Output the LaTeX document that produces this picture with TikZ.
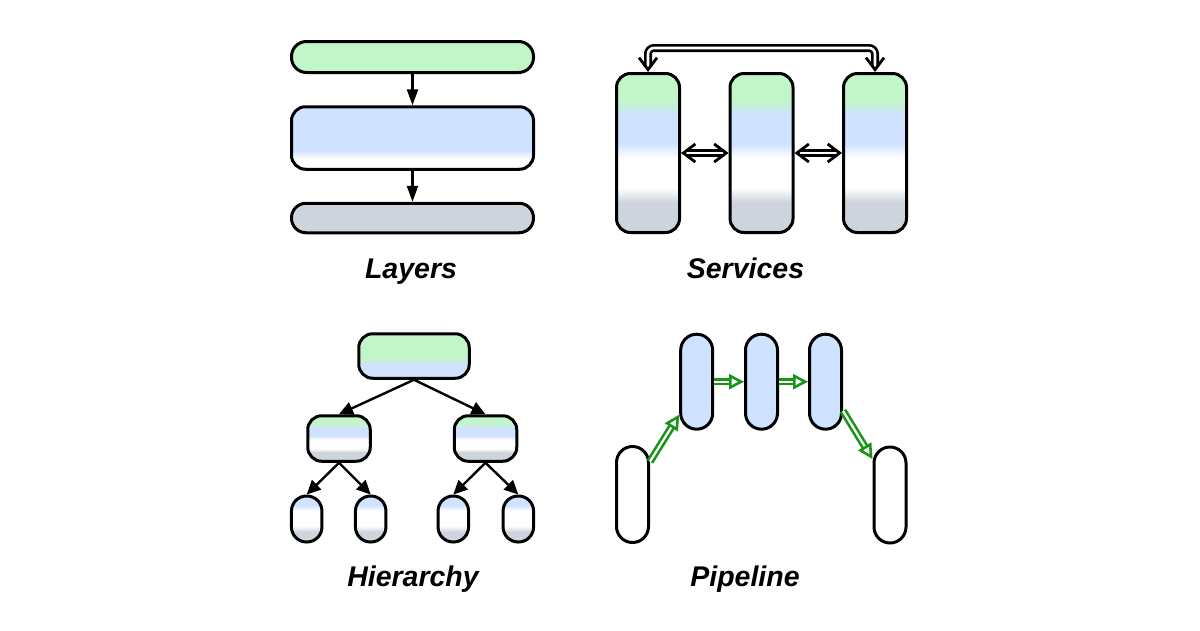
\documentclass[tikz,border=0pt]{standalone}
\usepackage{fontspec}
\setmainfont{Liberation Sans}
\usetikzlibrary{arrows.meta,calc}

\definecolor{sgreen}{RGB}{194,245,199}
\definecolor{sblue}{RGB}{207,226,255}
\definecolor{sgray}{RGB}{206,212,220}
\definecolor{pgreen}{RGB}{24,148,24}

% vertical band shadings (the middle 25bp..75bp covers the node)
\pgfdeclareverticalshading{fourband}{100bp}{color(0bp)=(sgray); color(34.5bp)=(sgray);
  color(39bp)=(white); color(48.5bp)=(white); color(53bp)=(sblue); color(62bp)=(sblue);
  color(66.5bp)=(sgreen); color(100bp)=(sgreen)}
\pgfdeclareverticalshading{twoband}{100bp}{color(0bp)=(sblue); color(40.5bp)=(sblue);
  color(47bp)=(sgreen); color(100bp)=(sgreen)}
\pgfdeclareverticalshading{threeband}{100bp}{color(0bp)=(sgray); color(36bp)=(sgray);
  color(42.5bp)=(white); color(59bp)=(white); color(65bp)=(sblue); color(100bp)=(sblue)}
\pgfdeclareverticalshading{blueband}{100bp}{color(0bp)=(white); color(33.5bp)=(white);
  color(40bp)=(sblue); color(100bp)=(sblue)}

\tikzset{
  box/.style={draw=black, line width=3pt, inner sep=0pt},
  arr/.style={line width=2.4pt, -{Triangle[length=16pt,width=11pt]}},
  harr/.style={line width=2.4pt, -{Triangle[length=14pt,width=13pt]}},
  vtip/.tip={Straight Barb[color=black, line width=2.8pt, length=12pt, width=18pt]},
  % hollow double connector: thick black shaft, white core, open V heads
  dbl/.style={draw=black, line width=8pt, shorten <=5pt, shorten >=5pt,
    postaction={draw=white, line width=2.6pt, shorten <=0pt, shorten >=0pt, arrows={vtip-vtip}}},
  gtip/.tip={Triangle[color=pgreen, fill=white, line width=2.6pt, length=15pt, width=15pt]},
  garr/.style={draw=pgreen, line width=7.4pt, shorten >=13pt,
    postaction={draw=white, line width=2.2pt, shorten >=0pt, arrows={-gtip}}},
  lbl/.style={font=\fontsize{28.5}{32}\selectfont\bfseries\itshape, anchor=base, inner sep=0pt}
}

\begin{document}
\begin{tikzpicture}[x=1pt, y=-1pt]
  \fill[white] (0,0) rectangle (1200,630);
  \useasboundingbox (0,0) rectangle (1200,630);

  % ---- Layers ----
  \node[box, fill=sgreen, minimum width=242pt, minimum height=31pt, rounded corners=15pt] (l1) at (412.5,57) {};
  \node[box, shade, shading=blueband, minimum width=242pt, minimum height=62.5pt, rounded corners=14pt] (l2) at (412.5,138) {};
  \node[box, fill=sgray, minimum width=242pt, minimum height=29.5pt, rounded corners=14.5pt] (l3) at (412.5,218) {};
  \draw[arr] (l1) -- (l2);
  \draw[arr] (l2) -- (l3);
  \node[lbl] (tlayers) at (411,278) {Layers};

  % ---- Services ----
  \foreach \n/\x in {s1/648, s2/761.5, s3/875}
    \node[box, shade, shading=fourband, minimum width=63pt, minimum height=159pt, rounded corners=14pt] (\n) at (\x,153) {};
  \draw[dbl] (s1) -- (s2);
  \draw[dbl] (s2) -- (s3);
  \coordinate (top) at (0,48);
  \draw[dbl, rounded corners=6pt] (s1.north) -- (s1.north |- top) -- (s3.north |- top) -- (s3.north);
  \node[lbl] (tservices) at (745.5,278) {Services};

  % ---- Hierarchy ----
  \node[box, shade, shading=twoband, minimum width=110.5pt, minimum height=44.5pt, rounded corners=14pt] (h0) at (414,356) {};
  \node[box, shade, shading=fourband, minimum width=62.5pt, minimum height=45.5pt, rounded corners=14pt] (h1) at (339,438.5) {};
  \node[box, shade, shading=fourband, minimum width=62.5pt, minimum height=45.5pt, rounded corners=14pt] (h2) at (485.5,438.5) {};
  \foreach \n/\x in {h11/306.7, h12/370.7, h21/453.3, h22/518.3}
    \node[box, shade, shading=threeband, minimum width=30.5pt, minimum height=46pt, rounded corners=15pt] (\n) at (\x,519) {};
  \draw[harr] (h0.south) -- (h1.north);
  \draw[harr] (h0.south) -- (h2.north);
  \draw[harr] (h1.south) -- (h11.north);
  \draw[harr] (h1.south) -- (h12.north);
  \draw[harr] (h2.south) -- (h21.north);
  \draw[harr] (h2.south) -- (h22.north);
  \node[lbl] (thier) at (413,586) {Hierarchy};

  % ---- Pipeline ----
  \node[box, fill=white, minimum width=32pt, minimum height=96pt, rounded corners=16pt] (p1) at (632.5,494.5) {};
  \foreach \n/\x in {p2/696.7, p3/761.5, p4/825.5}
    \node[box, fill=sblue, minimum width=32pt, minimum height=95pt, rounded corners=16pt] (\n) at (\x,381.7) {};
  \node[box, fill=white, minimum width=32pt, minimum height=96pt, rounded corners=16pt] (p5) at (890,495) {};
  \draw[garr] (p1.62) -- (p2.242);
  \draw[garr] (p2) -- (p3);
  \draw[garr] (p3) -- (p4);
  \draw[garr] (p4.301) -- (p5.116);
  \node[lbl] (tpipe) at (745,586) {Pipeline};
\end{tikzpicture}
\end{document}
